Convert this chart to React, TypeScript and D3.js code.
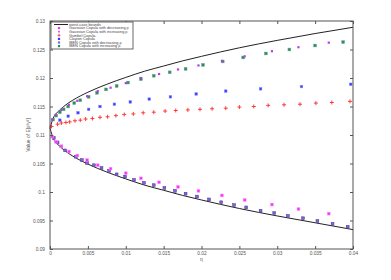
import { useRef, useEffect } from 'react';
import * as d3 from 'd3';

// worst-case bounds (upper and lower)
const boundX = [0, 0.0005, 0.001, 0.002, 0.003, 0.005, 0.0075, 0.01, 0.0125, 0.015, 0.0175, 0.02, 0.025, 0.03, 0.035, 0.04];
const boundUpper = [0.1112, 0.1132, 0.1140, 0.1152, 0.1161, 0.1175, 0.1189, 0.1201, 0.1212, 0.1221, 0.1230, 0.1238, 0.1253, 0.1266, 0.1278, 0.1289];
const boundLower = [0.1112, 0.1092, 0.1084, 0.1072, 0.1063, 0.1049, 0.1035, 0.1023, 0.1012, 0.1003, 0.0994, 0.0986, 0.0971, 0.0958, 0.0946, 0.0934];

// Gaussian copula: decreasing (lower) / increasing (upper) share the same x
const gaussX = [0.0003, 0.0008, 0.0015, 0.0025, 0.0036, 0.0049, 0.0063, 0.0080, 0.0100, 0.0120, 0.0144, 0.0169, 0.0196, 0.0227, 0.0257, 0.0293, 0.0328, 0.0368];
const gaussDec = [0.1097, 0.1088, 0.1080, 0.1071, 0.1064, 0.1056, 0.1047, 0.1041, 0.1033, 0.1024, 0.1017, 0.1009, 0.1002, 0.0994, 0.0986, 0.0978, 0.0970, 0.0962];
const gaussInc = [0.1127, 0.1136, 0.1144, 0.1153, 0.1160, 0.1168, 0.1177, 0.1183, 0.1191, 0.1200, 0.1207, 0.1215, 0.1222, 0.1230, 0.1238, 0.1247, 0.1254, 0.1262];

// Gumbel copula
const gumbelX = [0.0002, 0.0010, 0.0015, 0.0021, 0.0026, 0.0033, 0.0040, 0.0047, 0.0056, 0.0066, 0.0076, 0.0087, 0.0098, 0.0110, 0.0123, 0.0137, 0.0152, 0.0166, 0.0182, 0.0198, 0.0214, 0.0232, 0.0250, 0.0269, 0.0288, 0.0309, 0.0330, 0.0351, 0.0372, 0.0396];
const gumbelY = [0.1115, 0.1119, 0.1121, 0.1122, 0.1123, 0.1125, 0.1126, 0.1128, 0.1129, 0.1131, 0.1132, 0.1134, 0.1136, 0.1137, 0.1139, 0.1140, 0.1142, 0.1143, 0.1144, 0.1145, 0.1146, 0.1147, 0.1149, 0.1150, 0.1152, 0.1153, 0.1154, 0.1156, 0.1157, 0.1159];

// Clayton copula
const claytonX = [0.0013, 0.0024, 0.0037, 0.0051, 0.0066, 0.0085, 0.0106, 0.0131, 0.0159, 0.0193, 0.0232, 0.0278, 0.0332, 0.0397];
const claytonY = [0.1126, 0.1133, 0.1139, 0.1145, 0.1150, 0.1154, 0.1158, 0.1163, 0.1167, 0.1172, 0.1177, 0.1181, 0.1185, 0.1189];

// IBEN copula with decreasing rho
const ibenDecX = [0.0005, 0.0010, 0.0015, 0.0020, 0.0034, 0.0042, 0.0049, 0.0058, 0.0068, 0.0078, 0.0088, 0.0099, 0.0111, 0.0124, 0.0137, 0.0151, 0.0165, 0.0179, 0.0194, 0.0210, 0.0226, 0.0243, 0.0259, 0.0278, 0.0296, 0.0314, 0.0334, 0.0353, 0.0373, 0.0393];
const ibenDecY = [0.1095, 0.1087, 0.1080, 0.1073, 0.1062, 0.1056, 0.1051, 0.1047, 0.1042, 0.1037, 0.1031, 0.1027, 0.1021, 0.1016, 0.1012, 0.1007, 0.1002, 0.0997, 0.0992, 0.0987, 0.0982, 0.0977, 0.0973, 0.0967, 0.0963, 0.0958, 0.0954, 0.0949, 0.0944, 0.0939];

// IBEN copula with increasing rho
const ibenIncX = [0.0004, 0.0008, 0.0013, 0.0018, 0.0024, 0.0032, 0.0040, 0.0051, 0.0062, 0.0074, 0.0088, 0.0103, 0.0120, 0.0137, 0.0158, 0.0179, 0.0202, 0.0228, 0.0255, 0.0285, 0.0316, 0.0350, 0.0387];
const ibenIncY = [0.1127, 0.1134, 0.1140, 0.1145, 0.1150, 0.1156, 0.1161, 0.1167, 0.1174, 0.1180, 0.1186, 0.1192, 0.1198, 0.1204, 0.1210, 0.1216, 0.1223, 0.1229, 0.1236, 0.1243, 0.1250, 0.1257, 0.1263];

const xTicks = [0, 0.005, 0.01, 0.015, 0.02, 0.025, 0.03, 0.035, 0.04];
const xTickLabels = ['0', '0.005', '0.01', '0.015', '0.02', '0.025', '0.03', '0.035', '0.04'];
const yTicks = [0.09, 0.095, 0.1, 0.105, 0.11, 0.115, 0.12, 0.125, 0.13];
const yTickLabels = ['0.09', '0.095', '0.1', '0.105', '0.11', '0.115', '0.12', '0.125', '0.13'];

const legendLabels = [
  'worst-case bounds',
  'Gaussian Copula with decreasing ρ',
  'Gaussian Copula with increasing ρ',
  'Gumbel Copula',
  'Clayton Copula',
  'IBEN Copula with decreasing ρ',
  'IBEN Copula with increasing ρ',
];

const App = () => {
  const svgRef = useRef<SVGSVGElement>(null);

  useEffect(() => {
    const svg = d3.select(svgRef.current);
    svg.selectAll('*').remove();
    const width = 391;
    const height = 280;
    const margin = { top: 21, right: 38, bottom: 31, left: 50 };
    const font = 'Liberation Sans, Arial, sans-serif';

    const x = d3.scaleLinear().domain([0, 0.04]).range([margin.left, width - margin.right]);
    const y = d3.scaleLinear().domain([0.09, 0.13]).range([height - margin.bottom, margin.top]);

    svg.append('rect').attr('width', width).attr('height', height).attr('fill', '#fff');

    // data
    const line = d3.line<number>()
      .x((_, i) => x(boundX[i]))
      .curve(d3.curveMonotoneX);
    svg.append('path').attr('d', line.y(d => y(d))(boundUpper))
      .attr('fill', 'none').attr('stroke', '#222').attr('stroke-width', 1);
    svg.append('path').attr('d', line.y(d => y(d))(boundLower))
      .attr('fill', 'none').attr('stroke', '#222').attr('stroke-width', 1);

    const squares = (xs: number[], ys: number[], size: number, fill: string, stroke?: string) => {
      svg.append('g').selectAll('rect')
        .data(xs)
        .join('rect')
        .attr('x', (d) => x(d) - size / 2)
        .attr('y', (_, i) => y(ys[i]) - size / 2)
        .attr('width', size)
        .attr('height', size)
        .attr('fill', fill)
        .attr('stroke', stroke || 'none')
        .attr('stroke-width', 0.5);
    };

    squares(claytonX, claytonY, 2.6, '#3b3bff', '#8a8aff');
    squares(ibenIncX, ibenIncY, 2.8, '#2f8a5c', '#6aa88a');
    squares(gaussX, gaussInc, 2.2, '#b23ee6');
    squares(ibenDecX, ibenDecY, 2.8, '#7d62d6', '#4a3090');
    squares(gaussX, gaussDec, 2.8, '#ff2cff', '#ff90ff');

    svg.append('g').selectAll('path')
      .data(gumbelX)
      .join('path')
      .attr('d', (d, i) => {
        const cx = x(d), cy = y(gumbelY[i]);
        return `M${cx - 2},${cy}H${cx + 2}M${cx},${cy - 2}V${cy + 2}`;
      })
      .attr('stroke', '#ff2a2a')
      .attr('stroke-width', 0.9);

    // frame with inward ticks on all sides
    const axisColor = '#555';
    const tl = 3;
    const x0 = margin.left, x1 = width - margin.right;
    const y0 = height - margin.bottom, y1 = margin.top;

    const xAxisB = svg.append('g').attr('transform', `translate(0,${y0})`)
      .call(d3.axisBottom(x).tickValues(xTicks).tickSizeInner(-tl).tickSizeOuter(0).tickPadding(3)
        .tickFormat((_, i) => xTickLabels[i]));
    const xAxisT = svg.append('g').attr('transform', `translate(0,${y1})`)
      .call(d3.axisTop(x).tickValues(xTicks).tickSizeInner(-tl).tickSizeOuter(0).tickFormat(() => ''));
    const yAxisL = svg.append('g').attr('transform', `translate(${x0},0)`)
      .call(d3.axisLeft(y).tickValues(yTicks).tickSizeInner(-tl).tickSizeOuter(0).tickPadding(5)
        .tickFormat((_, i) => yTickLabels[i]));
    const yAxisR = svg.append('g').attr('transform', `translate(${x1},0)`)
      .call(d3.axisRight(y).tickValues(yTicks).tickSizeInner(-tl).tickSizeOuter(0).tickFormat(() => ''));

    [xAxisB, xAxisT, yAxisL, yAxisR].forEach(g => {
      g.select('.domain').remove();
      g.selectAll('line').attr('stroke', axisColor);
      g.selectAll('text').attr('fill', '#555').attr('font-size', 4.8).attr('font-family', font);
    });

    svg.append('rect')
      .attr('x', x0).attr('y', y1).attr('width', x1 - x0).attr('height', y0 - y1)
      .attr('fill', 'none').attr('stroke', axisColor).attr('stroke-width', 1);

    // axis labels
    svg.append('text')
      .attr('x', (x0 + x1) / 2).attr('y', y0 + 12)
      .attr('text-anchor', 'middle').attr('font-size', 5).attr('fill', '#555').attr('font-family', font)
      .text('η');
    svg.append('text')
      .attr('transform', `translate(${x0 - 20},${(y0 + y1) / 2}) rotate(-90)`)
      .attr('text-anchor', 'middle').attr('font-size', 5).attr('fill', '#555').attr('font-family', font)
      .text('Value of E[ε²γ²]');

    // legend
    const lg = svg.append('g').attr('transform', `translate(${x0 + 1},${y1 + 1})`);
    lg.append('rect').attr('width', 82).attr('height', 27)
      .attr('fill', '#fff').attr('stroke', '#444').attr('stroke-width', 0.8);
    const rowH = 3.6;
    legendLabels.forEach((label, i) => {
      const cy = 2.5 + i * rowH;
      const row = lg.append('g');
      if (i === 0) {
        row.append('path').attr('d', `M3,${cy}H17`).attr('stroke', '#222').attr('stroke-width', 1);
      } else if (i === 3) {
        row.append('path').attr('d', `M8,${cy - 1.5}V${cy + 1.5}M6.5,${cy}H9.5`).attr('stroke', '#ff2a2a').attr('stroke-width', 0.8);
      } else {
        const fills = ['', '#ff2cff', '#b23ee6', '', '#3b3bff', '#7d62d6', '#2f8a5c'];
        const s = i === 2 ? 1.6 : 2.2;
        row.append('rect').attr('x', 8 - s / 2).attr('y', cy - s / 2).attr('width', s).attr('height', s).attr('fill', fills[i]);
      }
      row.append('text')
        .attr('x', 18).attr('y', cy + 1.3)
        .attr('font-size', 3.8).attr('fill', '#444').attr('font-family', font)
        .text(label);
    });
  }, []);

  return (
    <svg ref={svgRef} width="391" height="280" style={{ position: 'absolute', left: 0, top: 0 }}></svg>
  );
};

export default App;
